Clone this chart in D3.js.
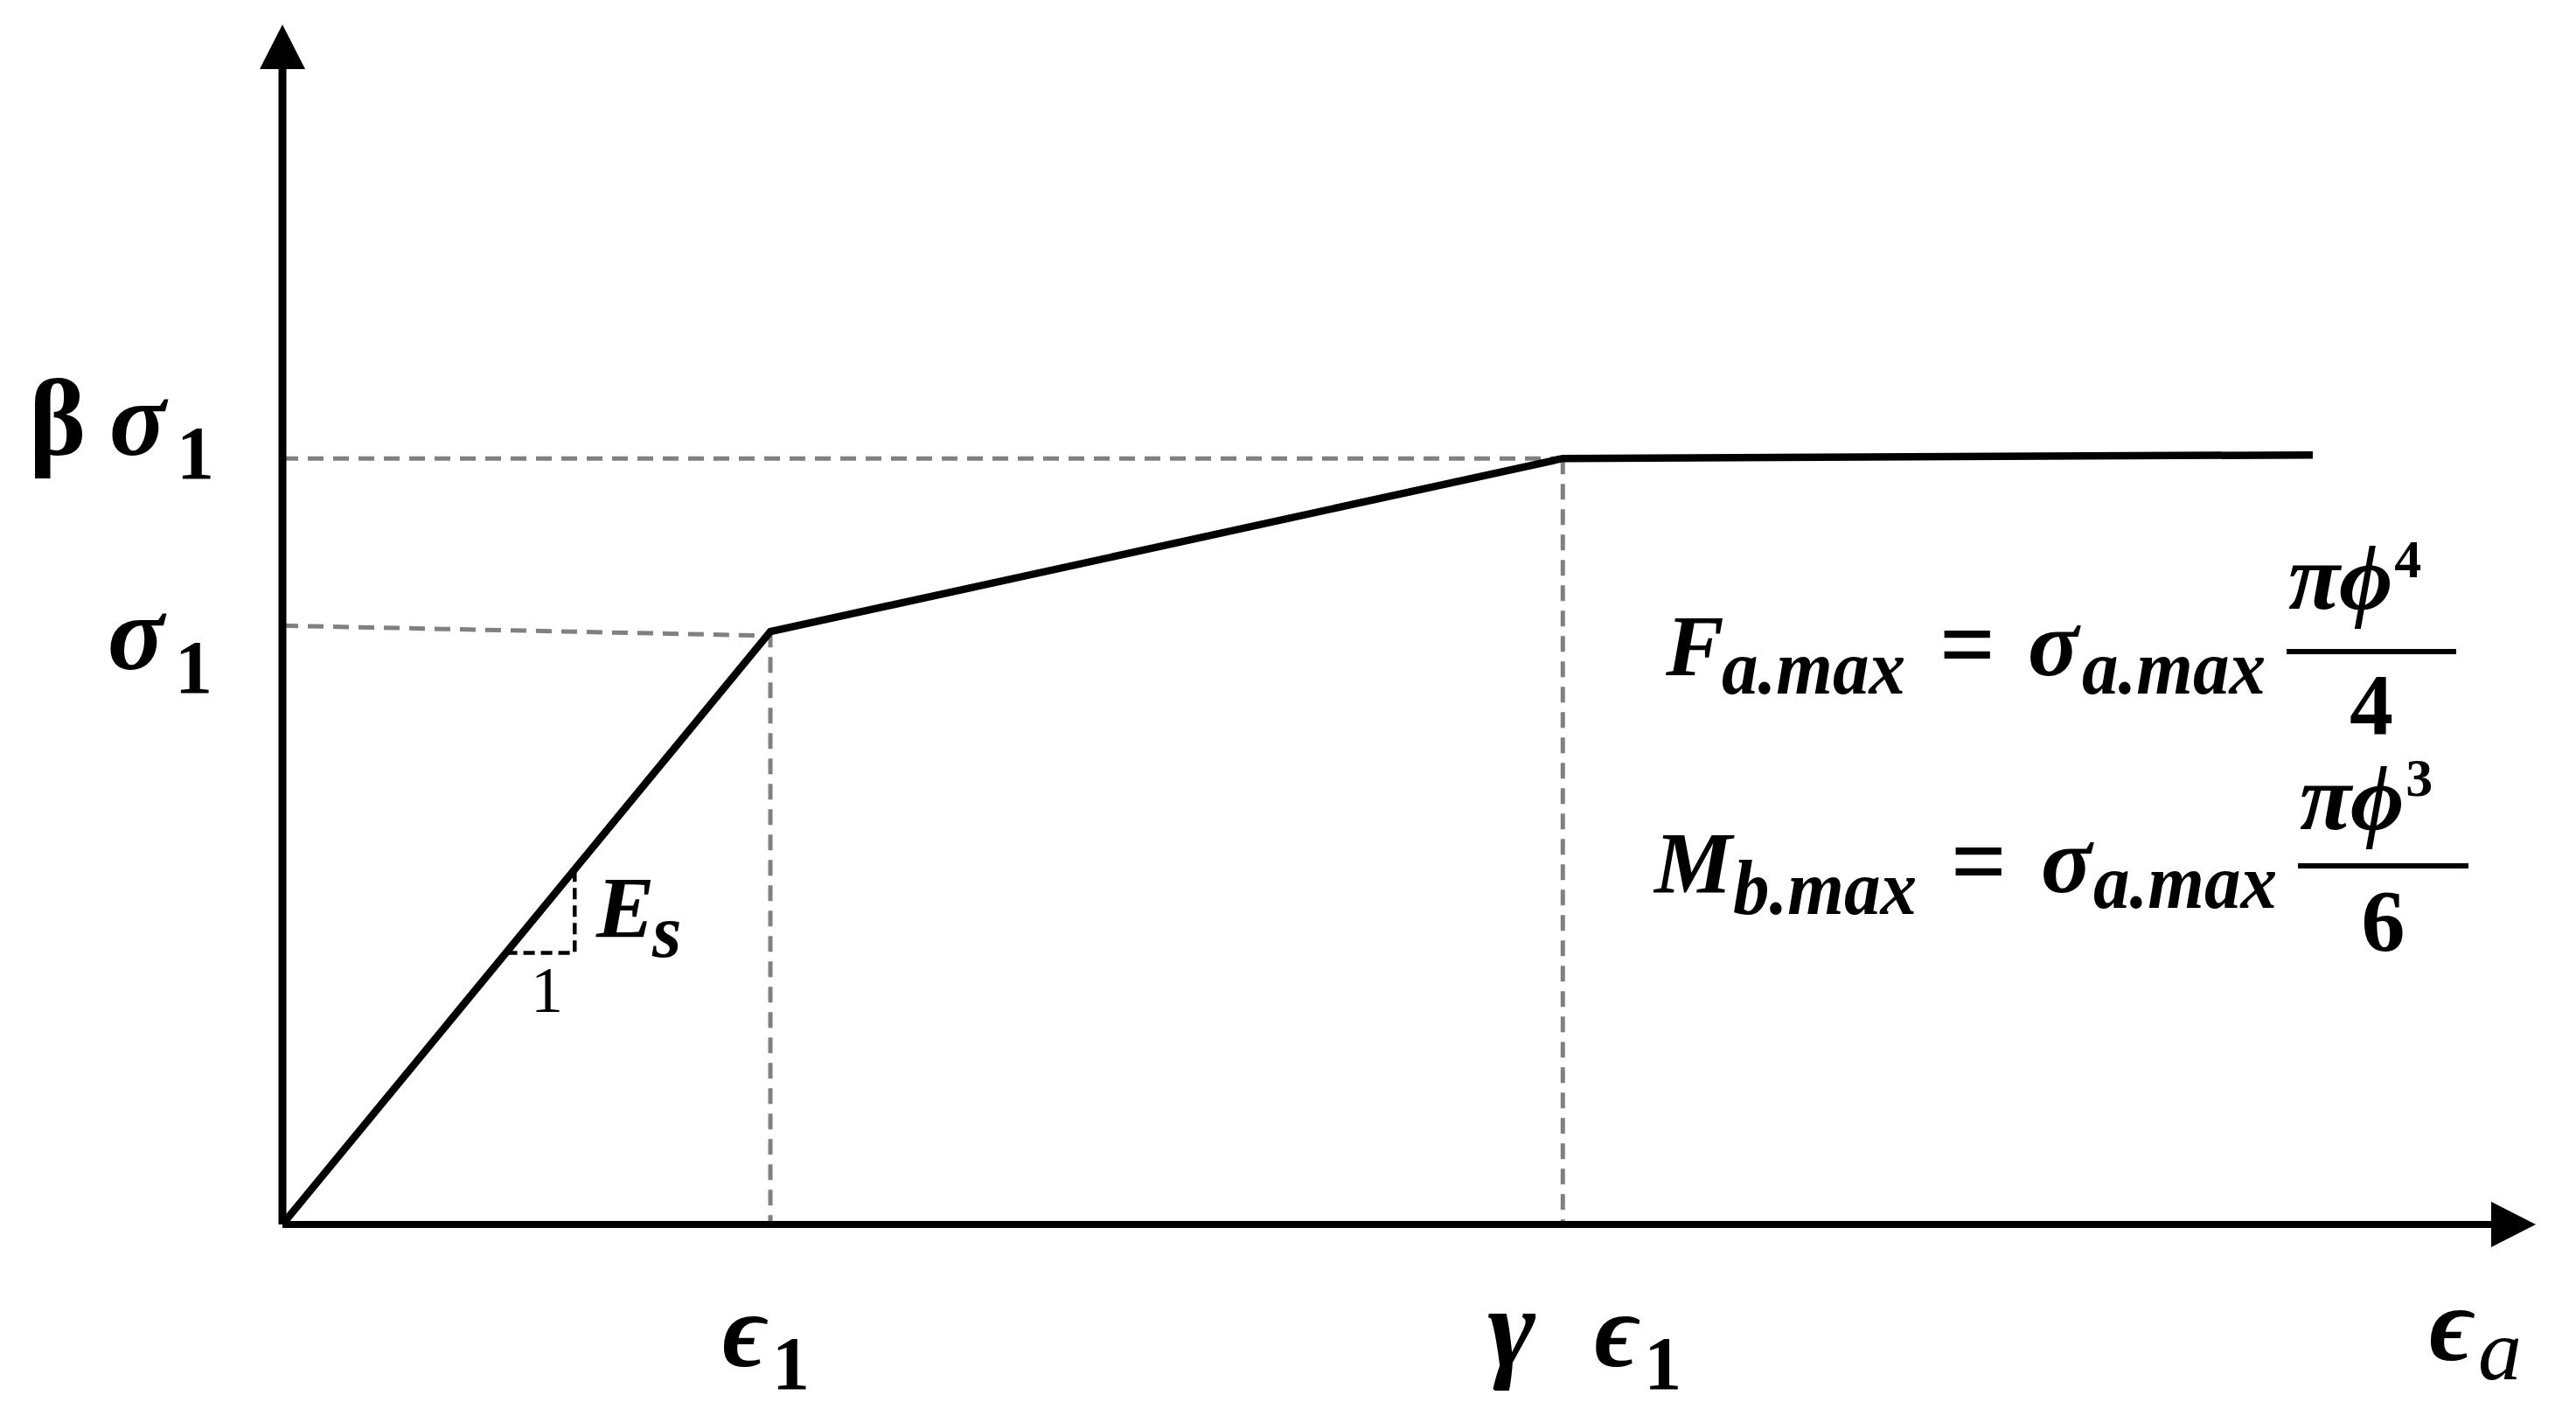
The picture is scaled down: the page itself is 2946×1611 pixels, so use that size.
<!DOCTYPE html>
<html><head><meta charset="utf-8">
<script src="https://cdn.jsdelivr.net/npm/d3@7"></script>
<style>html,body{margin:0;padding:0;background:#fff;} svg{display:block;}</style>
</head><body>
<svg id="chart" width="2946" height="1611"></svg>
<script>
// ---- data (strain in units of ε1, stress in units of σ1) ----
const strain = [0, 1, 2.624, 4.161];
const stress = [0, 1, 1.292, 1.298];
const xAxisMax = 4.618, yAxisMax = 2.024;
const xTickValues = [1, 2.624];
const xTickPrefix = ["", "γ"];
const xTickSymbol = ["ϵ", "ϵ"];
const xTickSub = ["1", "1"];
const yTickValues = [1, 1.292];
const yTickPrefix = ["", "β"];
const yTickSymbol = ["σ", "σ"];
const yTickSub = ["1", "1"];
const sigmaGuide = [[0, 1.010], [1, 0.993]];
const betaGuide = [[0, 1.292], [2.624, 1.292]];
const slopeTri = [0.458, 0.599];

const svg = d3.select("#chart");
const x = d3.scaleLinear().domain([0, xAxisMax]).range([323, 2900]);
const y = d3.scaleLinear().domain([0, yAxisMax]).range([1400, 28]);
const FF = "'Liberation Serif','DejaVu Serif',serif";
const GREY = "#808080";

function txt(str, px, py, size, opts = {}) {
  const t = svg.append("text")
    .attr("x", px).attr("y", py)
    .attr("font-family", opts.family || FF)
    .attr("font-size", size)
    .attr("font-weight", opts.weight || "bold")
    .attr("font-style", opts.style || "italic")
    .attr("text-anchor", opts.anchor || "start")
    .attr("fill", "#000")
    .text(str);
  if (opts.len) t.attr("textLength", opts.len).attr("lengthAdjust", "spacingAndGlyphs");
  return t;
}
function endOf(t) { const b = t.node().getBBox(); return b.x + b.width; }

const line = d3.line().x(d => x(d[0])).y(d => y(d[1]));

// guides (grey dashed)
[sigmaGuide, betaGuide].forEach(g => svg.append("path").attr("d", line(g))
  .attr("fill", "none").attr("stroke", GREY).attr("stroke-width", 5).attr("stroke-dasharray", "18 11"));
xTickValues.forEach((v, i) => {
  const top = i === 0 ? stress[1] : stress[2];
  svg.append("path").attr("d", line([[v, top], [v, 0]]))
    .attr("fill", "none").attr("stroke", GREY).attr("stroke-width", 5).attr("stroke-dasharray", "18 11");
});

// slope triangle
svg.append("path").attr("d", line([[slopeTri[0], slopeTri[0]], [slopeTri[1], slopeTri[0]], [slopeTri[1], slopeTri[1]]]))
  .attr("fill", "none").attr("stroke", "#000").attr("stroke-width", 4.5).attr("stroke-dasharray", "13 7");

// axes
svg.append("path").attr("d", line([[0, 0], [0, yAxisMax - 51 / 678]]))
  .attr("stroke", "#000").attr("stroke-width", 9).attr("fill", "none");
svg.append("path").attr("d", line([[0, 0], [xAxisMax - 51 / 560, 0]]))
  .attr("stroke", "#000").attr("stroke-width", 8).attr("fill", "none");
svg.append("path").attr("d", `M${x(0)},${y(yAxisMax)} L${x(0) - 26},${y(yAxisMax) + 51} L${x(0) + 26},${y(yAxisMax) + 51} Z`).attr("fill", "#000");
svg.append("path").attr("d", `M${x(xAxisMax)},${y(0)} L${x(xAxisMax) - 51},${y(0) - 26} L${x(xAxisMax) - 51},${y(0) + 26} Z`).attr("fill", "#000");

// curve
svg.append("path").attr("d", line(strain.map((s, i) => [s, stress[i]])))
  .attr("fill", "none").attr("stroke", "#000").attr("stroke-width", 8.5).attr("stroke-linejoin", "miter");

// y tick labels
yTickValues.forEach((v, i) => {
  const base = i === 0 ? 765 : 520;
  if (yTickPrefix[i]) txt(yTickPrefix[i], 33, base, 124, { style: "normal" });
  txt(yTickSymbol[i], i === 0 ? 123 : 125, base, 120);
  txt(yTickSub[i], i === 0 ? 200 : 202, base + 27, 86, { style: "normal" });
});

// x tick labels
xTickValues.forEach((v, i) => {
  const cx = x(v);
  const px = i === 0 ? cx - 55 : cx + 36;
  if (xTickPrefix[i]) txt(xTickPrefix[i], cx - 86, 1562, 132);
  txt(xTickSymbol[i], px, 1562, 120);
  txt(xTickSub[i], px + 57, 1588, 86, { style: "normal" });
});
// x axis title
txt("ϵ", 2778, 1555, 120);
txt("a", 2834, 1577, 100, { weight: "normal" });

// slope labels
txt("E", 682, 1071, 100);
txt("s", 746, 1094, 86);
txt("1", 607, 1157, 74, { weight: "normal", style: "normal" });

// formulas
function formula(lhs, lhsSub, x0, base, subBase, eqX, sigX, subX, fracX, fracW, numBase, supText, supBase, barY, den, denBase) {
  txt(lhs, x0, base, 100);
  txt(lhsSub, x0 + (lhs === "M" ? 90 : 64), subBase, 88, { len: 210 });
  txt("=", eqX - 32, base + 4, 118, { style: "normal", len: 64 });
  txt("σ", sigX, base, 108);
  txt("a.max", subX, subBase - (lhs === "M" ? 7 : 0), 88, { len: 210 });
  txt("π", fracX + 2, numBase, 108);
  const ph = txt("ϕ", fracX + 60, numBase, 106);
  txt(supText, endOf(ph) + 2, supBase, 62, { style: "normal" });
  svg.append("rect").attr("x", fracX).attr("y", barY).attr("width", fracW).attr("height", 6).attr("fill", "#000");
  txt(den, fracX + fracW / 2, denBase, 100, { style: "normal", anchor: "middle" });
}
formula("F", "a.max", 1905, 772, 793, 2250, 2319, 2381, 2615, 194, 696, "4", 660, 742, "4", 839);
formula("M", "b.max", 1892, 1020, 1045, 2263, 2334, 2394, 2628, 195, 948, "3", 910, 987, "6", 1086);
</script>
</body></html>
